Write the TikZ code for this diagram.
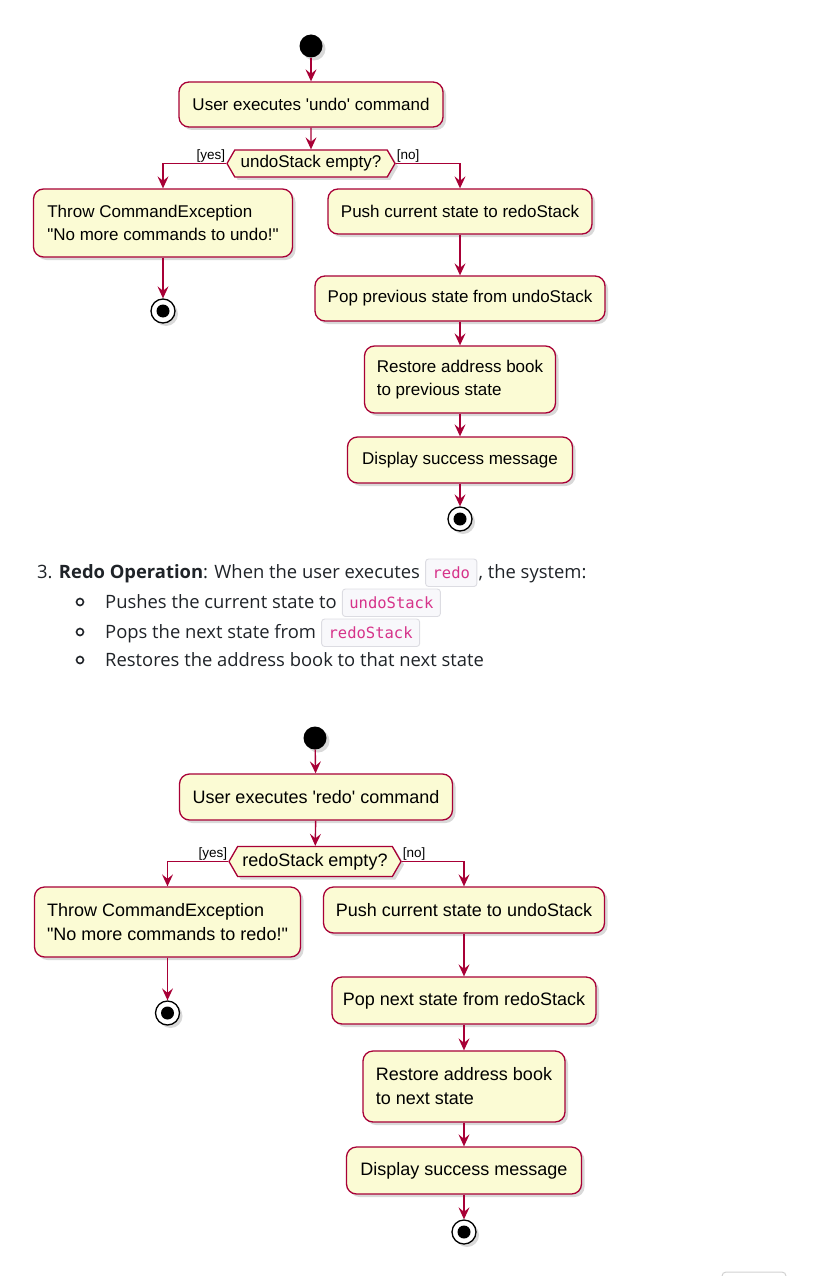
\documentclass[tikz,border=0pt]{standalone}
\usepackage{fontspec}
\setmainfont{Open Sans}
\newfontfamily\umlfont{Liberation Sans}
\newfontfamily\codefont{DejaVu Sans Mono}
\usetikzlibrary{arrows.meta,shapes.symbols,shadows,positioning}
\definecolor{umlred}{HTML}{A80036}
\definecolor{umlfill}{HTML}{FBFBD4}
\definecolor{codepink}{HTML}{D6338A}
\definecolor{codebg}{HTML}{F8F8FB}
\definecolor{codeline}{HTML}{DCDCE2}
\definecolor{bodytext}{HTML}{1F2328}
\begin{document}
\begin{tikzpicture}[x=1pt, y=-1pt,
  umlshadow/.style={drop shadow={shadow xshift=3pt, shadow yshift=-3pt, opacity=0.3}},
  act/.style={draw=umlred, fill=umlfill, line width=1.3pt, rounded corners=10pt, inner sep=0pt,
    minimum height=46pt, align=left, umlshadow},
  small/.style={font=\umlfont\fontsize{17}{23}\selectfont},
  large/.style={font=\umlfont\fontsize{18}{24}\selectfont},
  decide/.style={signal, signal to=east and west, signal pointer angle=120, draw=umlred, fill=umlfill,
    line width=1.3pt, inner xsep=2pt, inner ysep=0pt, umlshadow},
  startdot/.style={circle, fill=black, minimum size=23pt, inner sep=0pt, umlshadow},
  enddot/.style={circle, draw=black, fill=white, line width=1.3pt, minimum size=24pt, inner sep=0pt, umlshadow,
    path picture={\fill[black] (path picture bounding box.center) circle (6.5pt);}},
  flow/.style={draw=umlred, line width=1.4pt, -{Stealth[length=12pt, width=11pt, inset=4.5pt]}},
  guard/.style={font=\umlfont\fontsize{13.5}{15}\selectfont, inner sep=1pt},
  para/.style={font=\fontsize{18.4}{22}\selectfont, text=bodytext, inner sep=0pt},
  code/.style={font=\codefont\fontsize{15.5}{18}\selectfont, text=codepink, fill=codebg, draw=codeline,
    line width=0.9pt, rounded corners=3pt, inner xsep=7pt, inner ysep=6.5pt, text height=12.5pt, text depth=2pt},
  bulletring/.style={draw=bodytext, line width=1.6pt}]
  \useasboundingbox (0,0) rectangle (828,1276);

  \node[startdot] (start1) at (311,46) {};
  \node[act, small, minimum width=264pt, minimum height=45pt] (act1) at (311,104.5) {User executes 'undo' command};
  \node[decide, small, minimum width=168pt, minimum height=27pt] (dec1) at (311,163.5) {undoStack empty?};
  \node[guard, anchor=south east] (yes1) at (dec1.west) {[yes]};
  \node[guard, anchor=south west] (no1) at (dec1.east) {[no]};
  \node[act, small, minimum width=259pt, minimum height=68pt] (exc1) at (163,223) {Throw CommandException\\"No more commands to undo!"};
  \node[enddot] (end1a) at (163,311) {};
  \node[act, small, minimum width=264pt, minimum height=45pt] (push1) at (460,211.5) {Push current state to redoStack};
  \node[act, small, minimum width=290pt, minimum height=45pt] (pop1) at (460,298.5) {Pop previous state from undoStack};
  \node[act, small, minimum width=191pt, minimum height=67pt] (rest1) at (460,379.5) {Restore address book\\to previous state};
  \node[act, small, minimum width=225pt] (disp1) at (460,460) {Display success message};
  \node[enddot] (end1b) at (460,519) {};
  \draw[flow] (start1) -- (act1);
  \draw[flow] (act1) -- (dec1);
  \draw[flow] (dec1.west) -| (exc1.north);
  \draw[flow] (dec1.east) -| (push1.north);
  \draw[flow] (exc1) -- (end1a);
  \draw[flow] (push1) -- (pop1);
  \draw[flow] (pop1) -- (rest1);
  \draw[flow] (rest1) -- (disp1);
  \draw[flow] (disp1) -- (end1b);

  \node[para, anchor=base west] (line1) at (37,578) {3. \textbf{Redo Operation}: When the user executes};
  \node[code, anchor=base west] (code1) at ([xshift=5pt]line1.base east) {redo};
  \node[para, anchor=base west] (line1b) at ([xshift=1pt]code1.base east) {, the system:};
  \draw[bulletring] (80,602) circle (3.5pt);
  \node[para, anchor=base west] (line2) at (105,608) {Pushes the current state to};
  \node[code, anchor=base west] (code2) at ([xshift=5pt]line2.base east) {undoStack};
  \draw[bulletring] (80,632) circle (3.5pt);
  \node[para, anchor=base west] (line3) at (105,638) {Pops the next state from};
  \node[code, anchor=base west] (code3) at ([xshift=5pt]line3.base east) {redoStack};
  \draw[bulletring] (80,660) circle (3.5pt);
  \node[para, anchor=base west] (line4) at (105,666) {Restores the address book to that next state};

  \node[startdot] (start2) at (315,738) {};
  \node[act, large, minimum width=273pt] (act2) at (316,797) {User executes 'redo' command};
  \node[decide, large, minimum width=172pt, minimum height=30pt] (dec2) at (315,861.5) {redoStack empty?};
  \node[guard, anchor=south east] (yes2) at (dec2.west) {[yes]};
  \node[guard, anchor=south west] (no2) at (dec2.east) {[no]};
  \node[act, large, minimum width=266pt, minimum height=70pt] (exc2) at (167.5,922) {Throw CommandException\\"No more commands to redo!"};
  \node[enddot] (end2a) at (167.5,1013) {};
  \node[act, large, minimum width=281pt] (push2) at (464,910) {Push current state to undoStack};
  \node[act, large, minimum width=264pt, minimum height=47pt] (pop2) at (464,1000.5) {Pop next state from redoStack};
  \node[act, large, minimum width=202pt, minimum height=71pt] (rest2) at (464,1086.5) {Restore address book\\to next state};
  \node[act, large, minimum width=235pt, minimum height=47pt] (disp2) at (464,1170.5) {Display success message};
  \node[enddot] (end2b) at (464,1232) {};
  \draw[flow] (start2) -- (act2);
  \draw[flow] (act2) -- (dec2);
  \draw[flow] (dec2.west) -| (exc2.north);
  \draw[flow] (dec2.east) -| (push2.north);
  \draw[flow] (exc2) -- (end2a);
  \draw[flow] (push2) -- (pop2);
  \draw[flow] (pop2) -- (rest2);
  \draw[flow] (rest2) -- (disp2);
  \draw[flow] (disp2) -- (end2b);

  \draw[draw=black!18, line width=1pt, rounded corners=4pt] (722,1272) rectangle (786,1300);
\end{tikzpicture}
\end{document}
